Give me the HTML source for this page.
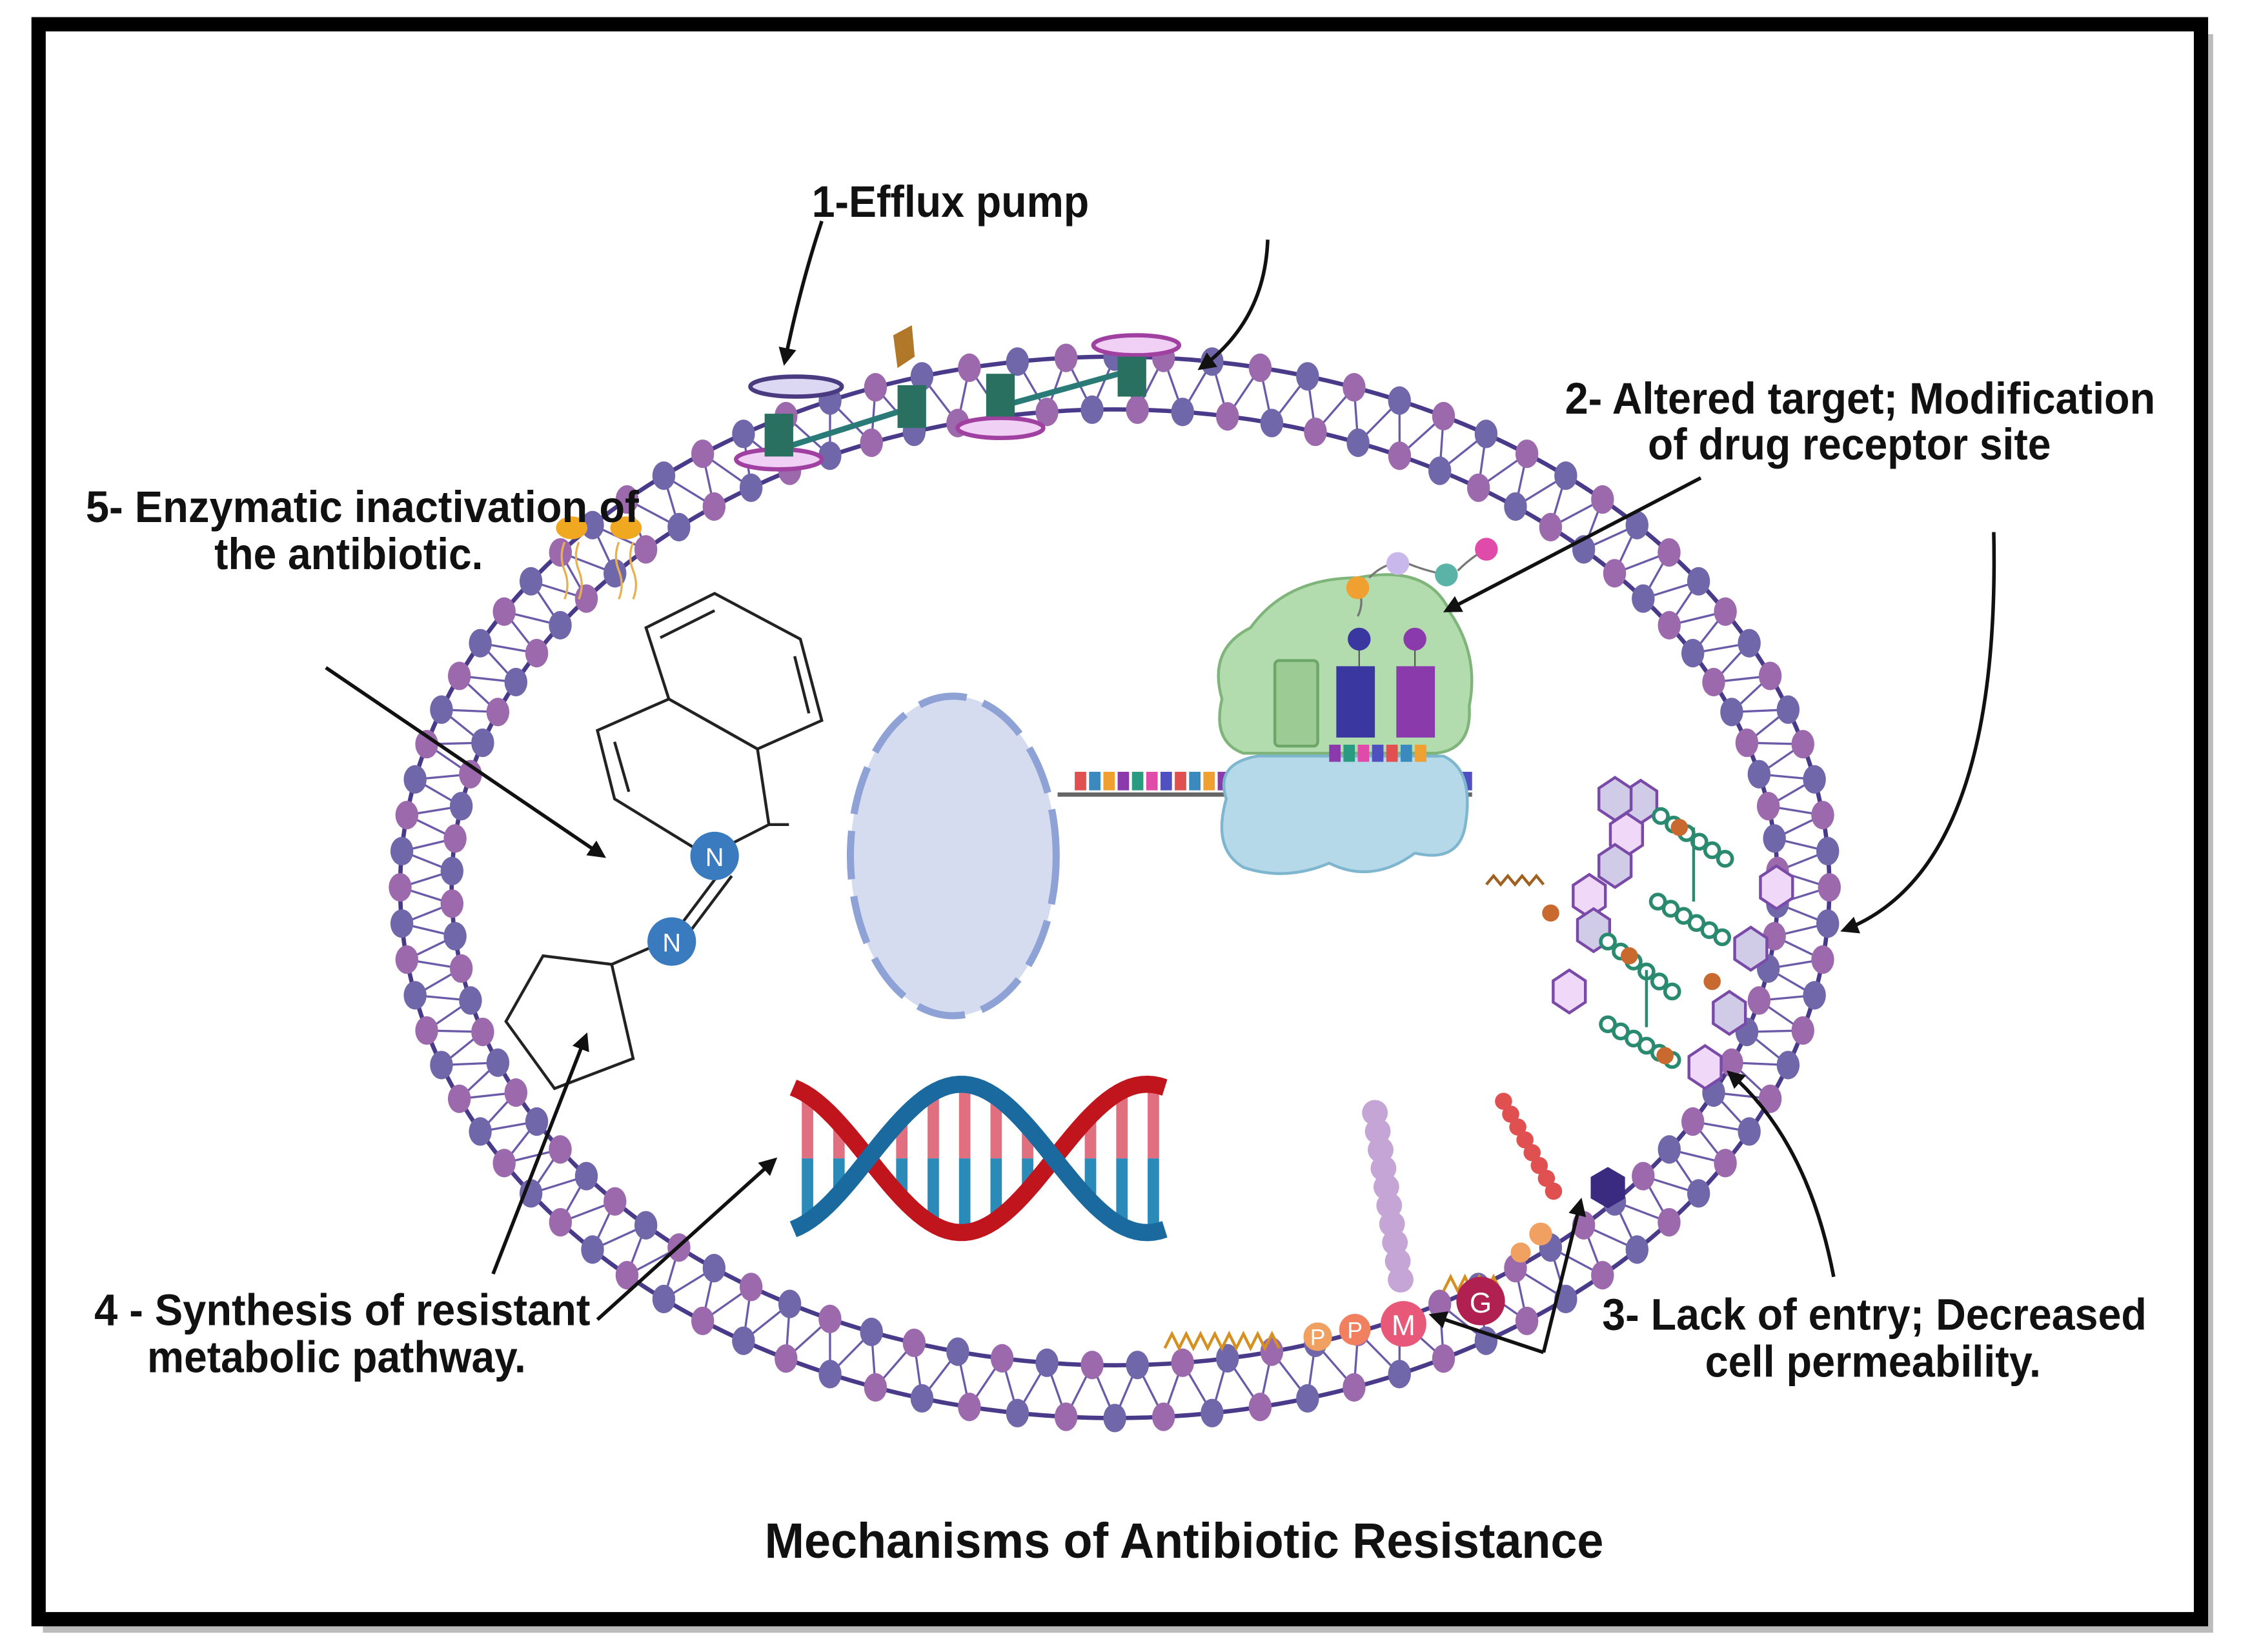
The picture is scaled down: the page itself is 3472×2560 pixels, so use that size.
<!DOCTYPE html>
<html><head><meta charset="utf-8"><style>
html,body{margin:0;padding:0;background:#fff;}
svg{display:block;}
text{font-family:"Liberation Sans Narrow","Liberation Sans",sans-serif;fill:#111;}
</style></head><body>
<svg id="s" width="3472" height="2560" viewBox="0 0 1568 1158" preserveAspectRatio="none" xmlns="http://www.w3.org/2000/svg">
<defs>
<marker id="ah" viewBox="0 0 10 10" refX="8" refY="5" markerWidth="5" markerHeight="5" orient="auto"><path d="M0,0 L10,5 L0,10 Z" fill="#111"/></marker>
</defs>
<rect x="0" y="0" width="1568" height="1158" fill="#fff"/>
<path d="M1546,24 L1546,1142 L30,1142" fill="none" stroke="#bbb" stroke-width="5"/>
<rect x="27" y="17" width="1513" height="1118" fill="none" stroke="#000" stroke-width="10"/>
<g id="mem"></g>
<ellipse cx="667" cy="600" rx="72" ry="112" fill="#d6dcf0" stroke="#8ea2d6" stroke-width="5" stroke-dasharray="34 12"/>
<line x1="740" y1="557" x2="1030" y2="557" stroke="#666" stroke-width="3"/>
<g id="rna"></g>
<path d="M858,560 Q850,535 880,530 L1010,530 Q1032,540 1025,580 Q1020,605 990,598 Q960,620 930,605 Q900,618 870,608 Q848,595 858,560Z" fill="#b5d9e8" stroke="#7fb6cf" stroke-width="2"/>
<path d="M855,490 Q845,455 875,440 Q900,405 950,405 Q1000,395 1015,430 Q1035,460 1028,495 Q1030,525 1005,528 L870,528 Q848,520 855,490Z" fill="#b3dcae" stroke="#7fb57a" stroke-width="2"/>
<rect x="892" y="463" width="30" height="60" rx="3" fill="#9ccb94" stroke="#6ea668" stroke-width="2"/>
<rect x="935" y="467" width="27" height="50" fill="#3a38a0"/>
<rect x="977" y="467" width="27" height="50" fill="#8a3aaa"/>
<line x1="951" y1="448" x2="951" y2="467" stroke="#555"/><line x1="990" y1="448" x2="990" y2="467" stroke="#555"/>
<circle cx="951" cy="448" r="8" fill="#3a38a0"/><circle cx="990" cy="448" r="8" fill="#8a3aaa"/>
<path d="M950,412 q5,10 0,20 M958,405 q10,-10 20,-10 M985,395 q12,5 27,8 M1020,400 q10,-10 20,-15" stroke="#777" fill="none" stroke-width="1.5"/>
<circle cx="950" cy="412" r="8" fill="#f0a030"/><circle cx="978" cy="395" r="8" fill="#c9b8ec"/><circle cx="1012" cy="403" r="8" fill="#5bb3a8"/><circle cx="1040" cy="385" r="8" fill="#e04aa8"/>
<g id="rna2"></g>
<g stroke="#222" stroke-width="2" fill="none">
<polygon points="452,440 500,416 560,448 575,505 530,525 468,490"/>
<polygon points="468,490 530,525 538,578 495,600 430,560 418,512"/>
<line x1="462" y1="447" x2="500" y2="428"/><line x1="556" y1="460" x2="566" y2="500"/><line x1="430" y1="520" x2="440" y2="555"/>
<line x1="538" y1="578" x2="552" y2="578"/>
<line x1="505" y1="610" x2="475" y2="650"/><line x1="512" y1="614" x2="482" y2="654"/>
<polygon points="380,670 428,676 443,742 388,763 354,716"/>
<line x1="428" y1="676" x2="465" y2="660"/>
</g>
<circle cx="500" cy="600" r="17" fill="#3a7bbf"/><text x="500" y="607" font-size="18" text-anchor="middle" style="fill:#fff">N</text>
<circle cx="470" cy="660" r="17" fill="#3a7bbf"/><text x="470" y="667" font-size="18" text-anchor="middle" style="fill:#fff">N</text>
<g id="dna"></g>
<g fill="#f0a820"><ellipse cx="400" cy="370" rx="11" ry="8"/><ellipse cx="438" cy="370" rx="11" ry="8"/></g>
<path d="M395,380 q-4,10 0,20 q4,10 0,20 M405,380 q-4,10 0,20 q4,10 0,20 M433,380 q-4,10 0,20 q4,10 0,20 M443,380 q-4,10 0,20 q4,10 0,20" stroke="#e8b050" fill="none" stroke-width="1.5"/>
<g>
<ellipse cx="557" cy="271" rx="32" ry="7" fill="#dcd8f4" stroke="#4a3a80" stroke-width="3"/>
<ellipse cx="545" cy="322" rx="30" ry="7" fill="#f0d0f4" stroke="#a040a0" stroke-width="3"/>
<ellipse cx="795" cy="242" rx="30" ry="7" fill="#f0d0f4" stroke="#a040a0" stroke-width="3"/>
<ellipse cx="700" cy="300" rx="30" ry="7" fill="#f0d0f4" stroke="#a040a0" stroke-width="3"/>
<line x1="545" y1="315" x2="640" y2="285" stroke="#2a7a78" stroke-width="4"/>
<line x1="700" y1="285" x2="790" y2="260" stroke="#2a7a78" stroke-width="4"/>
<rect x="535" y="290" width="20" height="30" fill="#2a7060"/><rect x="628" y="270" width="20" height="30" fill="#2a7060"/>
<rect x="690" y="262" width="20" height="30" fill="#2a7060"/><rect x="782" y="250" width="20" height="28" fill="#2a7060"/>
<path d="M625,235 L638,228 L640,250 L628,258 Z" fill="#b07828"/>
</g>
<g id="pg"></g>
<path d="M815,945 l5,-10 l5,10 l5,-10 l5,10 l5,-10 l5,10 l5,-10 l5,10 l5,-10 l5,10 l5,-10 l5,10 l5,-10 l5,10 l5,-10 l5,10" stroke="#d49020" fill="none" stroke-width="2"/>
<path d="M1010,905 l5,-10 l5,10 l5,-10 l5,10 l5,-10 l5,10 l5,-10 l5,10" stroke="#d49020" fill="none" stroke-width="2"/>
<path d="M1040,620 l5,-6 l5,6 l5,-6 l5,6 l5,-6 l5,6 l5,-6 l5,6" stroke="#a06020" fill="none" stroke-width="2"/>
<circle cx="922" cy="937" r="10" fill="#f0a060"/><text x="922" y="943" font-size="16" text-anchor="middle" style="fill:#fff">P</text>
<circle cx="948" cy="932" r="11" fill="#f08060"/><text x="948" y="938" font-size="16" text-anchor="middle" style="fill:#fff">P</text>
<circle cx="982" cy="928" r="16" fill="#e85878"/><text x="982" y="936" font-size="20" text-anchor="middle" style="fill:#fff">M</text>
<circle cx="1036" cy="912" r="17" fill="#b02050"/><text x="1036" y="920" font-size="20" text-anchor="middle" style="fill:#fff">G</text>
<g fill="#c5a5d5" id="aak"></g>
<g fill="#e05050" id="red"></g>
<polygon points="1125,818 1137,825 1137,840 1125,847 1113,840 1113,825" fill="#3a2a80"/>
<circle cx="1078" cy="865" r="8" fill="#f0a060"/><circle cx="1064" cy="878" r="7" fill="#f0a060"/>
<g stroke="#111" stroke-width="2.5" fill="none" marker-end="url(#ah)">
<path d="M575,155 Q560,200 549,254"/>
<path d="M887,168 Q885,225 840,258"/>
<path d="M1190,335 L1012,428"/>
<path d="M1395,373 Q1400,610 1290,652"/>
<path d="M228,468 L422,600"/>
<path d="M345,893 L410,726"/>
<path d="M418,925 L542,813"/>
<path d="M1283,895 Q1265,800 1210,752"/>
<path d="M1080,948 L1002,922"/>
<path d="M1080,948 L1106,842"/>
</g>
<g font-weight="bold">
<text x="568" y="152" font-size="31" textLength="194" lengthAdjust="spacingAndGlyphs">1-Efflux pump</text>
<text x="1095" y="290" font-size="31" textLength="413" lengthAdjust="spacingAndGlyphs">2- Altered target; Modification</text>
<text x="1153" y="322" font-size="31" textLength="282" lengthAdjust="spacingAndGlyphs">of drug receptor site</text>
<text x="60" y="366" font-size="31" textLength="387" lengthAdjust="spacingAndGlyphs">5- Enzymatic inactivation of</text>
<text x="150" y="399" font-size="31" textLength="188" lengthAdjust="spacingAndGlyphs">the antibiotic.</text>
<text x="66" y="929" font-size="31" textLength="347" lengthAdjust="spacingAndGlyphs">4 - Synthesis of resistant</text>
<text x="103" y="962" font-size="31" textLength="265" lengthAdjust="spacingAndGlyphs">metabolic pathway.</text>
<text x="1121" y="932" font-size="31" textLength="381" lengthAdjust="spacingAndGlyphs">3- Lack of entry; Decreased</text>
<text x="1193" y="965" font-size="31" textLength="235" lengthAdjust="spacingAndGlyphs">cell permeability.</text>
<text x="535" y="1092" font-size="35" textLength="587" lengthAdjust="spacingAndGlyphs">Mechanisms of Antibiotic Resistance</text>
</g>
</svg>
<script>
var NS="http://www.w3.org/2000/svg";
function el(p,t,a){var e=document.createElementNS(NS,t);for(var k in a)e.setAttribute(k,a[k]);p.appendChild(e);return e;}
var mem=document.getElementById("mem");
var cx=780,cy=622,N=92,o=[],i=[];
for(var k=0;k<N;k++){var t=2*Math.PI*k/N,t2=2*Math.PI*(k+0.5)/N;
o.push([cx+500*Math.cos(t),cy+372*Math.sin(t)]);i.push([cx+464*Math.cos(t2),cy+335*Math.sin(t2)]);}
el(mem,"ellipse",{cx:cx,cy:cy,rx:500,ry:372,fill:"none",stroke:"#4a3a8a","stroke-width":3});
el(mem,"ellipse",{cx:cx,cy:cy,rx:464,ry:335,fill:"none",stroke:"#4a3a8a","stroke-width":3});
for(var k=0;k<N;k++){var a=o[k],b=i[k],c=o[(k+1)%N];
el(mem,"polyline",{points:a+" "+b+" "+c,fill:"none",stroke:"#6a5aa8","stroke-width":1.5});}
for(var k=0;k<N;k++){
el(mem,"ellipse",{cx:o[k][0],cy:o[k][1],rx:8,ry:10,fill:k%2?"#7066aa":"#9c6aac"});
el(mem,"ellipse",{cx:i[k][0],cy:i[k][1],rx:8,ry:10,fill:k%2?"#9c6aac":"#7066aa"});}
var cols=["#e05050","#3a8ac0","#f0a030","#8a3aaa","#2a9a80","#e04aa8","#5050c0"];
var rna=document.getElementById("rna");
for(var x=752,k=0;x<1025;x+=10,k++){el(rna,"rect",{x:x,y:541,width:8,height:13,fill:cols[k%7]});}
var rna2=document.getElementById("rna2");
for(var x=930,k=0;x<1000;x+=10,k++){el(rna2,"rect",{x:x,y:522,width:8,height:12,fill:cols[(k+3)%7]});}
var dna=document.getElementById("dna");
for(var x=565;x<812;x+=22){var yt=812-50*Math.cos((x-555)/260*2*Math.PI+0.3),yb=812+50*Math.cos((x-555)/260*2*Math.PI+0.3);
el(dna,"line",{x1:x,y1:Math.min(yt,yb),x2:x,y2:(yt+yb)/2,stroke:"#e07080","stroke-width":8});
el(dna,"line",{x1:x,y1:(yt+yb)/2,x2:x,y2:Math.max(yt,yb),stroke:"#2a8ab8","stroke-width":8});}
var p1="",p2="";
for(var x=555;x<=815;x+=4){var ph=(x-555)/260*2*Math.PI+0.3;p1+=(x==555?"M":"L")+x+","+(812-52*Math.cos(ph));p2+=(x==555?"M":"L")+x+","+(812+52*Math.cos(ph));}
el(dna,"path",{d:p1,stroke:"#c0151d","stroke-width":12,fill:"none"});
el(dna,"path",{d:p2,stroke:"#1a6aa0","stroke-width":12,fill:"none"});
var pg=document.getElementById("pg");
function hex(x,y,f){var s="";for(var j=0;j<6;j++){var a=Math.PI/3*j+Math.PI/6;s+=(x+13*Math.cos(a))+","+(y+15*Math.sin(a))+" ";}el(pg,"polygon",{points:s,fill:f,stroke:"#7a4aa8","stroke-width":2});}
[[1148,562],[1138,585],[1130,607],[1112,628],[1115,652],[1098,695],[1225,665],[1243,622],[1210,710],[1193,748],[1130,560]].forEach(function(h,k){hex(h[0],h[1],k%2?"#f0d8f8":"#d0cce8");});
function beads(pts,col){pts.forEach(function(p){el(pg,"circle",{cx:p[0],cy:p[1],r:5,fill:"#fff",stroke:col||"#2a8a70","stroke-width":2.5});});}
var b=[];for(var k=0;k<6;k++)b.push([1162+k*9,572+k*6]);beads(b);
b=[];for(var k=0;k<6;k++)b.push([1160+k*9,632+k*5]);beads(b);
b=[];for(var k=0;k<6;k++)b.push([1125+k*9,660+k*7]);beads(b);
b=[];for(var k=0;k<6;k++)b.push([1125+k*9,718+k*5]);beads(b);
el(pg,"line",{x1:1185,y1:580,x2:1185,y2:632,stroke:"#2a8a70","stroke-width":2});
el(pg,"line",{x1:1152,y1:680,x2:1152,y2:720,stroke:"#2a8a70","stroke-width":2});
[[1175,580],[1198,688],[1140,670],[1165,740],[1085,640]].forEach(function(p){el(pg,"circle",{cx:p[0],cy:p[1],r:6,fill:"#c86a30"});});
var aak=document.getElementById("aak");
for(var k=0;k<10;k++)el(aak,"circle",{cx:962+k*2,cy:780+k*13,r:9});
var red=document.getElementById("red");
for(var k=0;k<8;k++)el(red,"circle",{cx:1052+k*5,cy:772+k*9,r:6});
</script>
</body></html>
